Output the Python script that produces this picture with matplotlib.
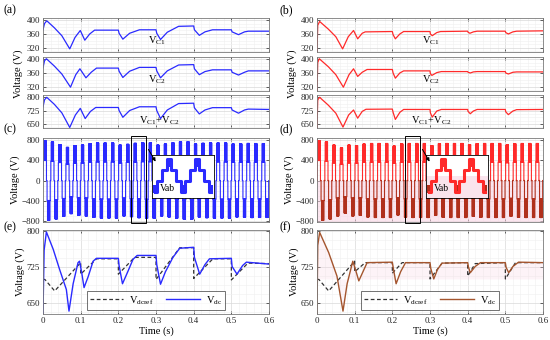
import matplotlib
matplotlib.use("Agg")
import matplotlib.pyplot as plt
import numpy as np
from matplotlib.patches import Rectangle, FancyArrowPatch
from matplotlib.ticker import MultipleLocator, AutoMinorLocator

plt.rcParams["font.family"] = ["Liberation Serif", "DejaVu Serif"]
plt.rcParams["mathtext.fontset"] = "custom"
plt.rcParams["mathtext.rm"] = "Liberation Serif"

# ── data: capacitor voltages, left column (a) ────────────────────────────────
t_vc1_a = [0, 0.004, 0.01, 0.03, 0.05, 0.071, 0.085, 0.099, 0.111, 0.124, 0.137, 0.2, 0.202, 0.212, 0.23, 0.256,
           0.3, 0.302, 0.312, 0.33, 0.36, 0.4, 0.402, 0.415, 0.43, 0.45, 0.5, 0.502, 0.519, 0.535, 0.545, 0.6]
vc1_a = [372, 390, 398, 378, 355, 317, 350, 370, 342, 360, 371, 371, 362, 345, 362, 372,
         372, 362, 344, 365, 382, 383, 372, 356, 366, 372, 372, 366, 358, 366, 368, 368]
t_vc2_a = [0, 0.004, 0.009, 0.03, 0.05, 0.073, 0.087, 0.098, 0.114, 0.128, 0.142, 0.2, 0.202, 0.212, 0.23, 0.256,
           0.3, 0.302, 0.312, 0.33, 0.36, 0.4, 0.402, 0.415, 0.43, 0.45, 0.5, 0.502, 0.519, 0.535, 0.545, 0.6]
vc2_a = [375, 395, 401, 380, 357, 319, 355, 372, 346, 362, 374, 374, 365, 347, 365, 376,
         376, 366, 346, 366, 383, 384, 372, 355, 364, 369, 369, 362, 354, 362, 366, 366]
t_sum_a = [0, 0.004, 0.01, 0.03, 0.05, 0.071, 0.086, 0.099, 0.112, 0.126, 0.14, 0.2, 0.202, 0.212, 0.23, 0.256,
           0.3, 0.302, 0.312, 0.33, 0.36, 0.4, 0.402, 0.415, 0.43, 0.45, 0.5, 0.502, 0.519, 0.535, 0.545, 0.6]
vsum_a = [745, 785, 799, 760, 712, 630, 700, 737, 680, 720, 742, 742, 725, 687, 725, 746,
          746, 725, 680, 728, 764, 766, 740, 706, 728, 741, 741, 728, 710, 728, 733, 731]

# ── data: capacitor voltages, right column (b) ───────────────────────────────
t_vc1_b = [0, 0.002, 0.007, 0.03, 0.05, 0.068, 0.083, 0.097, 0.108, 0.12, 0.128, 0.2, 0.202, 0.208, 0.22, 0.23,
           0.3, 0.301, 0.306, 0.318, 0.328, 0.4, 0.401, 0.406, 0.415, 0.425, 0.5, 0.501, 0.508, 0.52, 0.53, 0.6]
vc1_b = [308, 385, 396, 374, 352, 317, 352, 370, 346, 362, 366, 367, 358, 346, 360, 367,
         367, 360, 355, 364, 367, 368, 365, 362, 366, 368, 368, 364, 360, 366, 368, 369]
t_vc2_b = [0, 0.002, 0.006, 0.03, 0.05, 0.07, 0.085, 0.097, 0.108, 0.12, 0.133, 0.2, 0.202, 0.208, 0.22, 0.23,
           0.3, 0.301, 0.305, 0.318, 0.33, 0.4, 0.401, 0.407, 0.415, 0.425, 0.5, 0.501, 0.508, 0.52, 0.53, 0.6]
vc2_b = [308, 390, 401, 378, 355, 319, 355, 372, 350, 362, 370, 370, 360, 345, 360, 366,
         366, 358, 353, 361, 364, 364, 362, 360, 363, 364, 364, 360, 357, 362, 363, 363]
t_sum_b = [0, 0.002, 0.007, 0.03, 0.05, 0.069, 0.084, 0.097, 0.108, 0.12, 0.13, 0.2, 0.202, 0.208, 0.22, 0.23,
           0.3, 0.301, 0.306, 0.318, 0.33, 0.4, 0.401, 0.407, 0.415, 0.425, 0.5, 0.501, 0.508, 0.52, 0.53, 0.6]
vsum_b = [628, 785, 799, 755, 710, 632, 700, 728, 682, 720, 732, 733, 715, 675, 715, 731,
          731, 712, 688, 722, 731, 731, 720, 707, 722, 731, 731, 718, 702, 722, 730, 731]

# ── data: output voltage Vab, peak of each 20 ms cycle ───────────────────────
cycle_period = 0.02
peaks_c = [790, 760, 710, 655, 690, 700, 730, 741, 741, 741, 700, 715, 735, 745, 745,
           700, 720, 745, 763, 765, 720, 735, 741, 741, 741, 720, 725, 733, 731, 731]
peaks_d = [790, 760, 700, 645, 700, 690, 720, 732, 732, 732, 680, 725, 732, 732, 732,
           690, 728, 732, 732, 732, 710, 728, 732, 732, 732, 705, 728, 732, 732, 732]
# switching pattern inside one cycle (fraction of period, level in half-dc units)
cycle_frac = [0.0, 0.04, 0.10, 0.12, 0.14, 0.16, 0.18, 0.20, 0.22, 0.24, 0.26, 0.28, 0.30, 0.32, 0.34, 0.36, 0.38,
              0.40, 0.46,
              0.5, 0.54, 0.60, 0.62, 0.64, 0.66, 0.68, 0.70, 0.72, 0.74, 0.76, 0.78, 0.80, 0.82, 0.84, 0.86, 0.88,
              0.90, 0.96]
cycle_level = [0, 1, 2, 1, 2, 1, 2, 1, 2, 1, 2, 1, 2, 1, 2, 1, 2,
               1, 0,
               0, -1, -2, -1, -2, -1, -2, -1, -2, -1, -2, -1, -2, -1, -2, -1, -2,
               -1, 0]

# zoomed staircase in the insets
inset_x = [0, 1, 2, 3, 4, 5, 6, 7, 8, 9, 10, 11, 12]
inset_lvl = [0, 1, 2, 3, 2, 1, 0, 1, 2, 3, 2, 1, 0]

# ── data: dc-link voltage tracking (e) and (f) ───────────────────────────────
t_vdc_e = [0, 0.003, 0.009, 0.027, 0.044, 0.062, 0.069, 0.08, 0.093, 0.097, 0.103, 0.109, 0.12, 0.133, 0.142,
           0.2, 0.202, 0.211, 0.225, 0.239, 0.25, 0.3, 0.302, 0.312, 0.325, 0.345, 0.363,
           0.4, 0.402, 0.416, 0.43, 0.442, 0.5, 0.502, 0.515, 0.53, 0.54, 0.6]
vdc_e = [629, 760, 798, 762, 720, 678, 633, 690, 734, 737, 712, 682, 705, 737, 743,
         743, 728, 690, 715, 741, 749, 749, 730, 689, 715, 745, 764,
         766, 745, 710, 730, 742, 743, 726, 710, 728, 735, 731]
t_ref_e = [0, 0.005, 0.031, 0.1, 0.1001, 0.142, 0.2, 0.2001, 0.243, 0.3, 0.3001, 0.363,
           0.4, 0.4001, 0.451, 0.5, 0.5001, 0.544, 0.6]
vref_e = [699, 699, 675, 734, 710, 742, 742, 710, 745, 745, 699, 765,
          765, 701, 742, 742, 698, 733, 732]
t_vdc_f = [0, 0.002, 0.007, 0.031, 0.053, 0.069, 0.08, 0.095, 0.102, 0.111, 0.122, 0.133,
           0.2, 0.202, 0.21, 0.222, 0.235, 0.3, 0.302, 0.31, 0.32, 0.332,
           0.4, 0.402, 0.407, 0.42, 0.434, 0.5, 0.502, 0.509, 0.52, 0.535, 0.6]
vdc_f = [629, 770, 797, 755, 706, 633, 690, 737, 720, 696, 715, 734,
         735, 725, 690, 715, 734, 734, 722, 700, 720, 733,
         734, 725, 713, 726, 734, 734, 724, 713, 726, 735, 734]
t_ref_f = [0, 0.005, 0.031, 0.1, 0.1001, 0.128, 0.2, 0.2001, 0.226, 0.3, 0.3001, 0.332,
           0.4, 0.4001, 0.42, 0.5, 0.5001, 0.527, 0.6]
vref_f = [699, 699, 675, 737, 715, 734, 734, 712, 734, 734, 700, 733,
          734, 706, 732, 734, 700, 734, 734]

time_ticks = [0, 0.1, 0.2, 0.3, 0.4, 0.5, 0.6]
time_labels = ["0", "0.1", "0.2", "0.3", "0.4", "0.5", "0.6"]

BLUE = "#2a2aff"
RED = "#ff2a2a"
BROWN = "#a4552e"
DARKRED = "#b0301c"
PINK = "#f8d3e2"

W, H = 550, 340
fig = plt.figure(figsize=(W / 100, H / 100), dpi=100)


def px_axes(x0, y0, x1, y1):
    return fig.add_axes([x0 / W, 1 - y1 / H, (x1 - x0) / W, (y1 - y0) / H])


def style(ax, yticks, ylim, bottom=False):
    ax.set_xlim(0, 0.6)
    ax.set_ylim(*ylim)
    ax.set_yticks(yticks)
    ax.set_xticks(time_ticks)
    ax.xaxis.set_minor_locator(MultipleLocator(0.02))
    ax.yaxis.set_minor_locator(AutoMinorLocator(4))
    ax.grid(True, which="major", color="#d9d9d9", lw=0.5)
    ax.grid(True, which="minor", color="#efefef", lw=0.4)
    ax.set_axisbelow(True)
    ax.tick_params(direction="in", length=2, width=0.5, labelsize=6.5, pad=2,
                   top=True, right=True, colors="#262626")
    ax.tick_params(which="minor", length=0)
    if bottom:
        ax.set_xticklabels(time_labels)
        ax.set_xlabel("Time (s)", fontsize=7.5, labelpad=1)
    else:
        ax.set_xticklabels([])
    for sp in ax.spines.values():
        sp.set_linewidth(0.6)
        sp.set_color("#7a7a7a")


def pwm_wave(peaks):
    t_all, v_all = [], []
    for k, pk in enumerate(peaks):
        for f, lvl in zip(cycle_frac, cycle_level):
            t_all.append((k + f) * cycle_period)
            v_all.append(lvl * pk / 2)
    t_all.append(len(peaks) * cycle_period)
    v_all.append(0)
    return np.array(t_all), np.array(v_all)


def fig_pt(x, y):
    return (x / W, 1 - y / H)


cols = [(43, 269), (317, 543)]
rows = [(18, 52), (57, 91), (95, 128), (138, 222), (230, 314)]
letters = [("(a)", "(b)"), ("(c)", "(d)"), ("(e)", "(f)")]
letter_y = [10, 129, 227]

for ci, (x0, x1) in enumerate(cols):
    color = BLUE if ci == 0 else RED
    tv1, v1, tv2, v2, tvs, vs = ((t_vc1_a, vc1_a, t_vc2_a, vc2_a, t_sum_a, vsum_a) if ci == 0
                                 else (t_vc1_b, vc1_b, t_vc2_b, vc2_b, t_sum_b, vsum_b))

    ax1 = px_axes(x0, rows[0][0], x1, rows[0][1])
    ax1.plot(tv1, v1, color=color, lw=0.9)
    style(ax1, [320, 360, 400], (308, 406))
    ax1.text(0.28, 333, r"$\mathregular{V_{C1}}$", fontsize=7.5)

    ax2 = px_axes(x0, rows[1][0], x1, rows[1][1])
    ax2.plot(tv2, v2, color=color, lw=0.9)
    style(ax2, [320, 360, 400], (308, 406))
    ax2.text(0.28, 333, r"$\mathregular{V_{C2}}$", fontsize=7.5)
    ax2.set_ylabel("Voltage (V)", fontsize=7.5, labelpad=3)

    ax3 = px_axes(x0, rows[2][0], x1, rows[2][1])
    ax3.plot(tvs, vs, color=color, lw=0.9)
    style(ax3, [650, 725, 800], (627, 812))
    ax3.text(0.255 - 0.005 * ci, 650, r"$\mathregular{V_{C1}\!+\!V_{C2}}$", fontsize=7.5)

    # output voltage
    axc = px_axes(x0, rows[3][0], x1, rows[3][1])
    tw, vw = pwm_wave(peaks_c if ci == 0 else peaks_d)
    if ci == 0:
        axc.plot(tw, vw, color=BLUE, lw=0.8, drawstyle="steps-post")
    else:
        axc.axhspan(-830, 0, color=PINK, alpha=0.55, lw=0, zorder=0.6)
        axc.plot(tw, np.ma.masked_less(vw, 0), color=RED, lw=0.8, drawstyle="steps-post")
        axc.plot(tw, np.ma.masked_greater(vw, 0), color=DARKRED, lw=0.8, drawstyle="steps-post")
    style(axc, [-800, -400, 0, 400, 800], (-820, 840))
    axc.set_ylabel("Voltage (V)", fontsize=7.5, labelpad=1)
    axc.add_patch(Rectangle((0.234, -846), 0.039, 1731, fill=False, ec="black", lw=0.7,
                            clip_on=False, zorder=5))

    # inset
    ix0 = x0 + 109
    axi = px_axes(ix0, 155, ix0 + 62, 198)
    axi.set_facecolor("white")
    if ci == 1:
        axi.axhspan(-1, 1.5, color=PINK, alpha=0.6, lw=0)
    axi.step(inset_x, inset_lvl, where="mid", color=color, lw=2.2)
    tops = [x for x, l in zip(inset_x, inset_lvl) if l == 3]
    bots = [x for x, l in zip(inset_x, inset_lvl) if l == 0]
    axi.bar(tops, 0.75, bottom=2.3, width=0.9, color=color, lw=0)
    axi.bar(bots, 0.75, bottom=-0.05, width=0.9, color=(color if ci == 0 else DARKRED), lw=0)
    axi.set_xlim(-0.6, 12.6)
    axi.set_ylim(-0.5, 3.4)
    axi.set_xticks([])
    axi.set_yticks([])
    for sp in axi.spines.values():
        sp.set_linewidth(0.6)
    axi.text(1.0, 0.15, "Vab", fontsize=7)

    fig.add_artist(FancyArrowPatch(fig_pt(x0 + 104, 147), fig_pt(x0 + 114, 164),
                                   transform=fig.transFigure, arrowstyle="-|>",
                                   mutation_scale=5, lw=0.7, color="black", zorder=10))

    # dc link
    axe = px_axes(x0, rows[4][0], x1, rows[4][1])
    tv, vv, tr, vr = ((t_vdc_e, vdc_e, t_ref_e, vref_e) if ci == 0
                      else (t_vdc_f, vdc_f, t_ref_f, vref_f))
    if ci == 1:
        axe.fill_between(tv, vv, 700, color=PINK, alpha=0.25, lw=0)
    axe.plot(tr, vr, color="#333333", lw=0.9, ls=(0, (3, 2)),
             label=r"$\mathregular{V_{dcref}}$")
    axe.plot(tv, vv, color=(BLUE if ci == 0 else BROWN), lw=1.0,
             label=r"$\mathregular{V_{dc}}$")
    style(axe, [650, 725, 800], (627, 802), bottom=True)
    axe.set_ylabel("Voltage (V)", fontsize=7.5, labelpad=1)
    leg = axe.legend(loc="lower center", ncol=2, fontsize=7.5, frameon=True, fancybox=False,
                     edgecolor="#333333", handlelength=3.2, columnspacing=1.2, borderpad=0.3,
                     handletextpad=0.6, bbox_to_anchor=(0.5, -0.01))
    leg.get_frame().set_linewidth(0.6)

    for (la, lb), ly in zip(letters, letter_y):
        fig.text((3 if ci == 0 else 280) / W, 1 - ly / H, (la, lb)[ci],
                 fontsize=8.5, va="center", ha="left")

fig.savefig("out.png", dpi=100)
